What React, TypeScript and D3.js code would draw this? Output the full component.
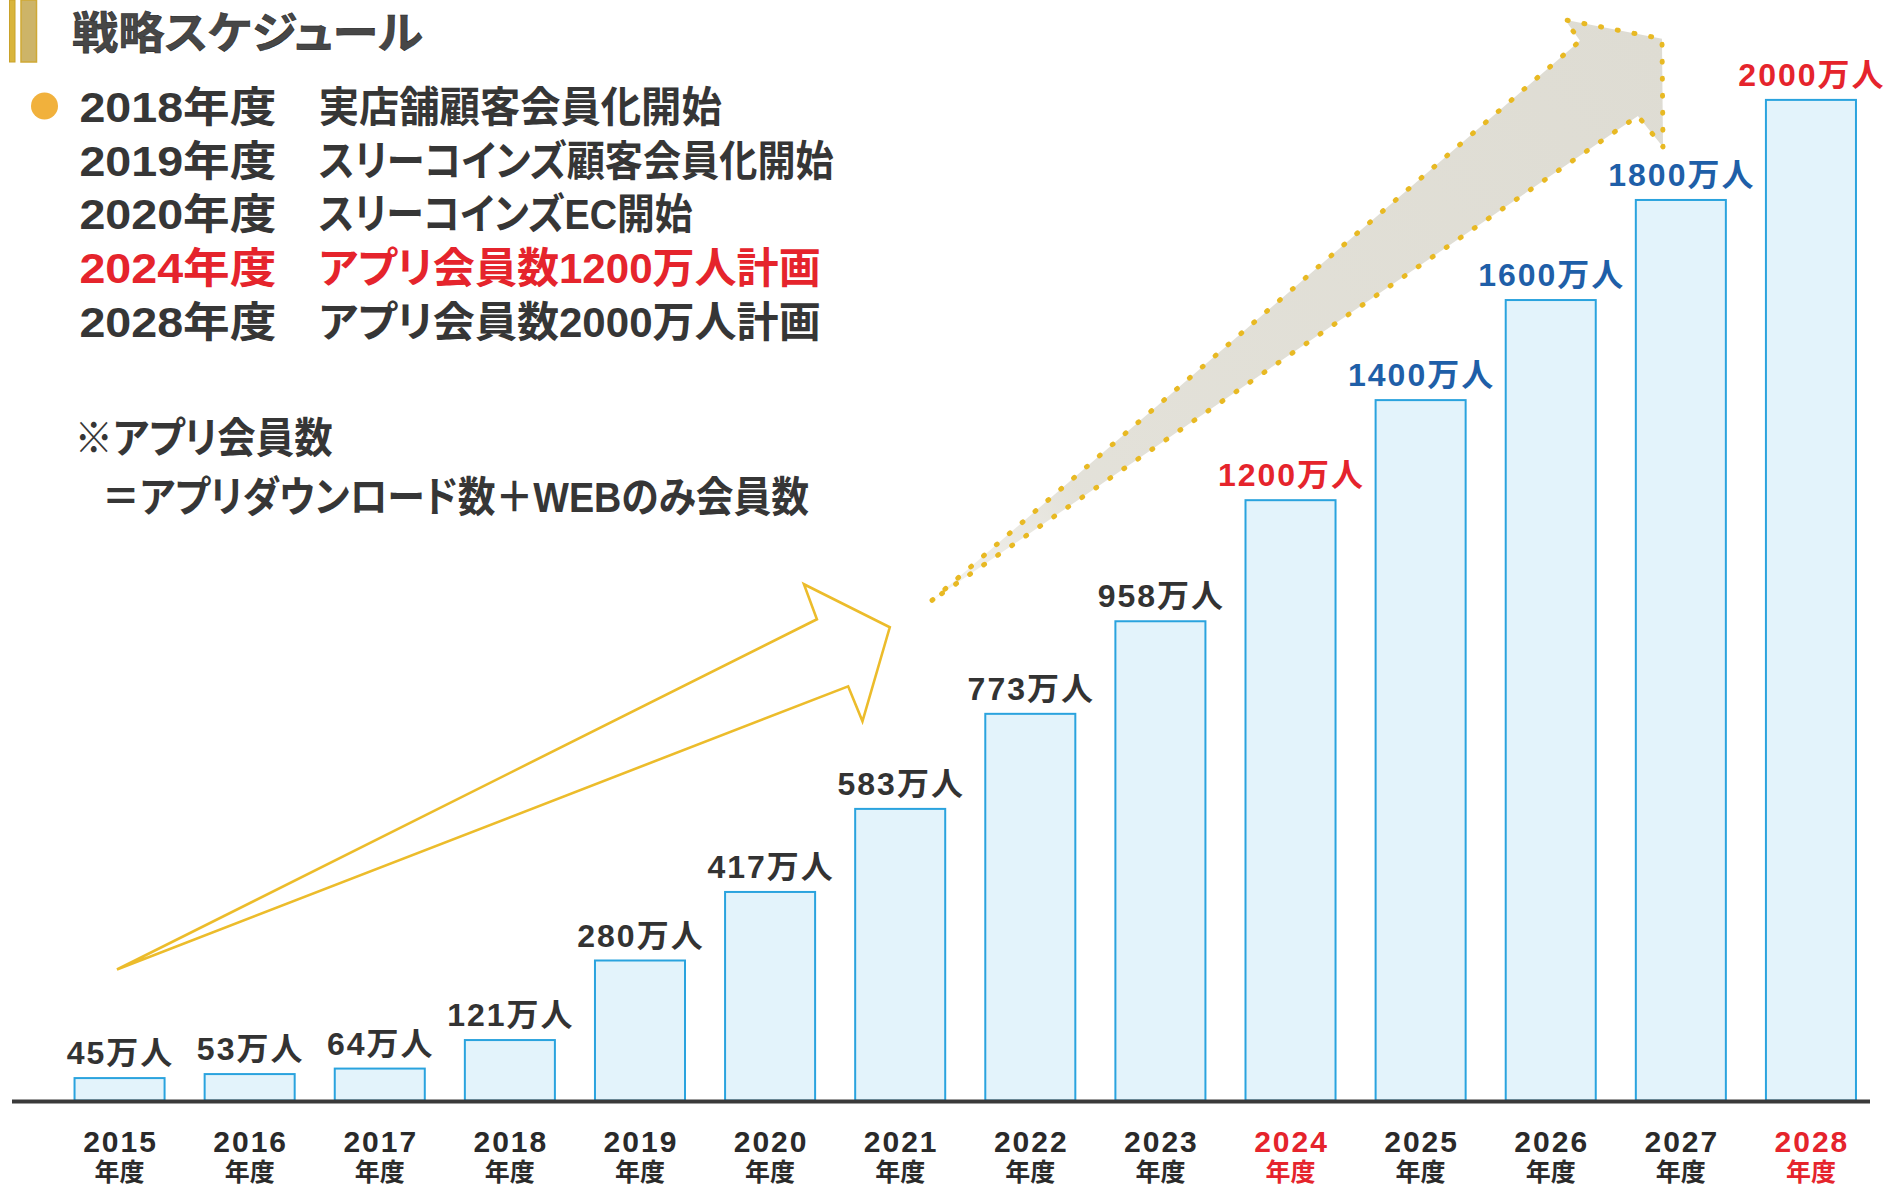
import React from "react";
import * as d3 from "d3";

// ---------- data ----------
const years = ["2015","2016","2017","2018","2019","2020","2021","2022","2023","2024","2025","2026","2027","2028"];
const members = [45, 53, 64, 121, 280, 417, 583, 773, 958, 1200, 1400, 1600, 1800, 2000];
const status = ["actual","actual","actual","actual","actual","actual","actual","actual","actual","plan","forecast","forecast","forecast","plan"];
const unitLabel = "万人";
const tickSub = "年度";

const title = "戦略スケジュール";
const scheduleYears = ["2018年度", "2019年度", "2020年度", "2024年度", "2028年度"];
const scheduleEvents = [
  "実店舗顧客会員化開始",
  "スリーコインズ顧客会員化開始",
  "スリーコインズEC開始",
  "アプリ会員数1200万人計画",
  "アプリ会員数2000万人計画",
];
const scheduleHighlight = [false, false, false, true, false];
const noteLines = ["※アプリ会員数", "＝アプリダウンロード数＋WEBのみ会員数"];

// decorative arrows, in chart units: [category index, value(万人)]
const arrowSmall: [number, number][] = [
  [-0.02, 262], [5.36, 962], [5.26, 1032], [5.92, 946], [5.71, 758], [5.6, 828],
];
const arrowBig: [number, number][] = [
  [6.245, 1000], [11.225, 2118], [11.11, 2160], [11.855, 2122], [11.863, 1906], [11.67, 1968],
];

// ---------- layout ----------
const W = 1886;
const H = 1185;
const FONT = "'Liberation Sans', 'Noto Sans CJK JP', sans-serif";
const scheduleDescWidths = [403, 515, 374, 502, 502];
const noteLayout = [
  { x: 74.6, y: 453, w: 258 },
  { x: 102, y: 512, w: 707 },
];
const colorOf: Record<string, string> = { actual: "#333333", plan: "#e5242c", forecast: "#1f5fa8" };
const DARK = "#363636";
const RED = "#e5242c";

export default function App() {
  const x = d3
    .scaleBand<string>()
    .domain(years)
    .range([54.5, 1876])
    .paddingInner(0.308)
    .paddingOuter(0.154);
  const bw = x.bandwidth();
  const y = d3.scaleLinear().domain([0, 2000]).range([1100.6, 99.9]);
  const xi = d3
    .scaleLinear()
    .domain([0, years.length - 1])
    .range([(x(years[0]) as number) + bw / 2, (x(years[years.length - 1]) as number) + bw / 2]);

  const line = d3
    .line<[number, number]>()
    .x((d) => xi(d[0]))
    .y((d) => y(d[1]))
    .curve(d3.curveLinearClosed);

  const bigTail = arrowBig[0];
  const bigTip = arrowBig[3];

  return (
    <svg
      width={W}
      height={H}
      viewBox={`0 0 ${W} ${H}`}
      style={{ position: "absolute", left: 0, top: 0, background: "#ffffff" }}
      fontFamily={FONT}
    >
      <defs>
        <linearGradient
          id="bigArrowFill"
          gradientUnits="userSpaceOnUse"
          x1={xi(bigTail[0])}
          y1={y(bigTail[1])}
          x2={xi(bigTip[0])}
          y2={y(bigTip[1])}
        >
          <stop offset="0" stopColor="#e0ded5" stopOpacity={0.35} />
          <stop offset="0.2" stopColor="#e0ded5" stopOpacity={0.9} />
          <stop offset="1" stopColor="#dedcd3" stopOpacity={1} />
        </linearGradient>
      </defs>

      {/* title marker bars */}
      <rect x={9.5} y={0} width={5.5} height={62} fill="#d9b53c" stroke="#c9a22a" strokeWidth={1} />
      <rect x={21} y={0} width={15.5} height={62} fill="#cdb468" stroke="#cfa934" strokeWidth={1.5} />
      <text
        x={72}
        y={49}
        fontSize={44}
        fontWeight="bold"
        fill="#474747"
        stroke="#2a2a2a"
        strokeWidth={0.6}
        textLength={351}
        lengthAdjust="spacingAndGlyphs"
        style={{ fontFeatureSettings: '"palt"' }}
      >
        {title}
      </text>

      {/* schedule list */}
      <circle cx={44.5} cy={106} r={13.5} fill="#f1b13c" />
      {scheduleYears.map((yr, i) => {
        const cy = 107 + i * 53.7;
        const fill = scheduleHighlight[i] ? RED : DARK;
        return (
          <g key={yr} fill={fill} fontWeight="bold" fontSize={42} style={{ fontFeatureSettings: '"palt"' }}>
            <text x={79.4} y={cy + 15} textLength={197} lengthAdjust="spacingAndGlyphs">
              {yr}
            </text>
            <text x={318.7} y={cy + 15} textLength={scheduleDescWidths[i]} lengthAdjust="spacingAndGlyphs">
              {scheduleEvents[i]}
            </text>
          </g>
        );
      })}
      {noteLines.map((t, i) => (
        <text
          key={t}
          x={noteLayout[i].x}
          y={noteLayout[i].y}
          fontSize={42}
          fontWeight="bold"
          fill={DARK}
          textLength={noteLayout[i].w}
          lengthAdjust="spacingAndGlyphs"
          style={{ fontFeatureSettings: '"palt"' }}
        >
          {t}
        </text>
      ))}

      {/* big dotted arrow */}
      <path d={line(arrowBig) || ""} fill="url(#bigArrowFill)" stroke="none" />
      <path
        d={line(arrowBig) || ""}
        fill="none"
        stroke="#e8b923"
        strokeWidth={5}
        strokeDasharray="1 16"
        strokeLinecap="round"
        strokeLinejoin="round"
      />

      {/* small outline arrow */}
      <path d={line(arrowSmall) || ""} fill="none" stroke="#ecbc2b" strokeWidth={2.6} strokeLinejoin="miter" />

      {/* bars */}
      {years.map((yr, i) => (
        <rect
          key={yr}
          x={x(yr)}
          y={y(members[i])}
          width={bw}
          height={y(0) - y(members[i])}
          fill="#e3f3fb"
          stroke="#2aa3de"
          strokeWidth={2}
        />
      ))}

      {/* value labels */}
      {years.map((yr, i) => (
        <text
          key={"v" + yr}
          x={(x(yr) as number) + bw / 2 + 1}
          y={y(members[i]) - 14}
          textAnchor="middle"
          fontSize={32}
          fontWeight="bold"
          letterSpacing={2}
          fill={colorOf[status[i]]}
        >
          {members[i]}
          {unitLabel}
        </text>
      ))}

      {/* axis baseline */}
      <line x1={12} x2={1870} y1={y(0) + 1} y2={y(0) + 1} stroke="#3a3a3a" strokeWidth={4} />

      {/* x tick labels */}
      {years.map((yr, i) => {
        const c = (x(yr) as number) + bw / 2;
        const fill = status[i] === "plan" ? RED : "#2a2a2a";
        return (
          <g key={"t" + yr} fill={fill} fontWeight="bold" textAnchor="middle">
            <text x={c + 1} y={1152} fontSize={30} letterSpacing={2}>
              {yr}
            </text>
            <text x={c} y={1181} fontSize={25}>
              {tickSub}
            </text>
          </g>
        );
      })}
    </svg>
  );
}
